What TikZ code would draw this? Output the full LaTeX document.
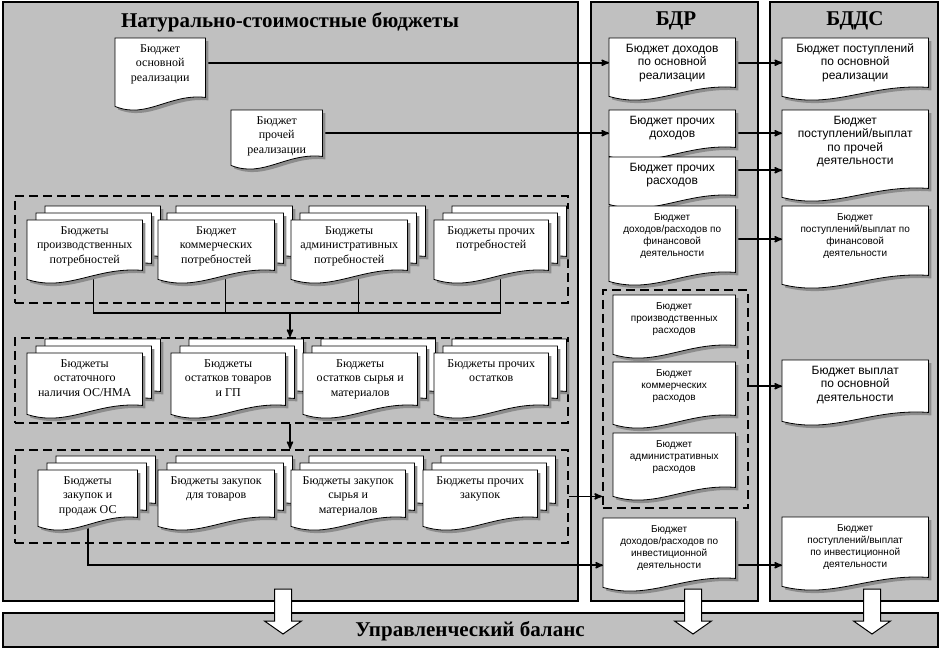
\documentclass[tikz,border=0pt]{standalone}
\usepackage{fontspec}
\setmainfont{Liberation Serif}
\setsansfont{Liberation Sans}
\usetikzlibrary{calc}
\usetikzlibrary{arrows}

\definecolor{panelgray}{RGB}{192,192,192}

\newcommand{\lmfont}{\rmfamily\fontsize{12}{14.5}\selectfont}
\newcommand{\rbfont}{\sffamily\fontsize{12}{13.5}\selectfont}
\newcommand{\rsfont}{\sffamily\fontsize{10}{12}\selectfont}
\newcommand{\ttlfont}{\rmfamily\bfseries\fontsize{21}{24}\selectfont}
% text of a budget sheet, top aligned: width, height, lines
\newcommand{\bud}[3]{\parbox[c][#2pt][t]{#1pt}{\centering\rule{0pt}{14pt}#3\par}}
% sheet outline with wavy bottom: node, dx, dy, style
\newcommand{\docpath}[4]{%
  \path[#4] let \p1=($(#1.north west)+(#2,#3)$), \p2=($(#1.south east)+(#2,#3)$), \n1={\x2-\x1} in
    (\x1,\y1) -- (\x2,\y1) -- (\x2,\y2)
    .. controls (\x2-0.4*\n1,\y2+4pt) and (\x1+0.35*\n1,\y2-22pt) .. (\x1,\y2-9pt) -- cycle;}

\pgfdeclarelayer{background}
\pgfdeclarelayer{edges}
\pgfdeclarelayer{docs}
\pgfsetlayers{background,edges,docs,main}

\tikzset{
  panel/.style={draw=black, fill=panelgray, line width=1.2pt},
  grp/.style={draw=black, line width=1.8pt, dash pattern=on 9pt off 5pt, anchor=north west, inner sep=0pt},
  lbud/.style={anchor=north west, inner sep=0pt, font=\lmfont},
  rbud/.style={anchor=north west, inner sep=0pt, font=\rbfont},
  sbud/.style={anchor=north west, inner sep=0pt, font=\rsfont},
  ttl/.style={font=\ttlfont, inner sep=0pt},
  docshadow/.style={fill=black!45},
  docpaper/.style={fill=white, draw=black, line width=0.8pt},
  link/.style={black, line width=1.6pt, ->, >=stealth'},
  busline/.style={black, line width=1.2pt},
  blk/.style={draw=black, fill=white, line width=1pt}
}

\begin{document}
\begin{tikzpicture}[x=1pt, y=-1pt]
\useasboundingbox (0,0) rectangle (941,649);

\begin{pgfonlayer}{background}
\fill[white] (0,0) rectangle (941,649);
\draw[panel] (3,2) rectangle (578,601);
\draw[panel] (591,2) rectangle (758,601);
\draw[panel] (770,2) rectangle (938,601);
\draw[panel] (3,613) rectangle (938,647);
\node[grp, minimum width=553, minimum height=107] (d1) at (14,195) {};
\node[grp, minimum width=553, minimum height=85] (d2) at (14,337) {};
\node[grp, minimum width=553, minimum height=93] (d3) at (14,449) {};
\node[grp, minimum width=145, minimum height=218] (d4) at (602,289) {};
\end{pgfonlayer}

% titles
\node[ttl] (tnat) at (290,22) {Натурально-стоимостные бюджеты};
\node[ttl] (tbdr) at (676,21) {БДР};
\node[ttl] (tbdds) at (855,21) {БДДС};

% natural budgets
\node[lbud] (lm1) at (115,38) {\bud{90}{59}{Бюджет\\основной\\реализации}};
\node[lbud] (lm2) at (231,110) {\bud{91}{46}{Бюджет\\прочей\\реализации}};

\node[lbud] (g1a) at (27,220) {\bud{115}{50}{Бюджеты\\производственных\\потребностей}};
\node[lbud] (g1b) at (158,220) {\bud{116}{50}{Бюджет\\коммерческих\\потребностей}};
\node[lbud] (g1c) at (291,220) {\bud{116}{50}{Бюджеты\\административных\\потребностей}};
\node[lbud] (g1d) at (434,220) {\bud{114}{50}{Бюджеты прочих\\потребностей}};

\node[lbud] (g2a) at (27,353) {\bud{115}{52}{Бюджеты\\остаточного\\наличия ОС/НМА}};
\node[lbud] (g2b) at (171,353) {\bud{114}{52}{Бюджеты\\остатков товаров\\и ГП}};
\node[lbud] (g2c) at (303,353) {\bud{114}{52}{Бюджеты\\остатков сырья и\\материалов}};
\node[lbud] (g2d) at (434,353) {\bud{114}{52}{Бюджеты прочих\\остатков}};

\node[lbud] (g3a) at (38,470) {\bud{99}{47}{Бюджеты\\закупок и\\продаж ОС}};
\node[lbud] (g3b) at (158,470) {\bud{116}{47}{Бюджеты закупок\\для товаров}};
\node[lbud] (g3c) at (291,470) {\bud{114}{47}{Бюджеты закупок\\сырья и\\материалов}};
\node[lbud] (g3d) at (423,470) {\bud{114}{47}{Бюджеты прочих\\закупок}};

% БДР
\node[rbud] (r1) at (609,38) {\bud{126}{49}{Бюджет доходов\\по основной\\реализации}};
\node[rbud] (r2) at (609,110) {\bud{126}{37}{Бюджет прочих\\доходов}};
\node[rbud] (r3) at (609,157) {\bud{126}{38}{Бюджет прочих\\расходов}};
\node[sbud] (r4) at (609,206) {\bud{126}{66}{Бюджет\\доходов/расходов по\\финансовой\\деятельности}};
\node[sbud] (r5) at (613,295) {\bud{122}{50}{Бюджет\\производственных\\расходов}};
\node[sbud] (r6) at (613,362) {\bud{122}{53}{Бюджет\\коммерческих\\расходов}};
\node[sbud] (r7) at (613,433) {\bud{122}{54}{Бюджет\\административных\\расходов}};
\node[sbud] (r8) at (603,518) {\bud{132}{60}{Бюджет\\доходов/расходов по\\инвестиционной\\деятельности}};

% БДДС
\node[rbud] (s1) at (782,38) {\bud{146}{49}{Бюджет поступлений\\по основной\\реализации}};
\node[rbud] (s2) at (782,110) {\bud{146}{78}{Бюджет\\поступлений/выплат\\по прочей\\деятельности}};
\node[sbud] (s3) at (782,206) {\bud{146}{69}{Бюджет\\поступлений/выплат по\\финансовой\\деятельности}};
\node[rbud] (s4) at (782,360) {\bud{146}{52}{Бюджет выплат\\по основной\\деятельности}};
\node[sbud] (s5) at (782,517) {\bud{146}{60}{Бюджет\\поступлений/выплат\\по инвестиционной\\деятельности}};

\coordinate (bus) at (290,313);

\begin{pgfonlayer}{docs}
\foreach \nm in {g1a,g1b,g1c,g1d,g2a,g2b,g2c,g2d,g3a,g3b,g3c,g3d} {
  \docpath{\nm}{21}{-11}{docshadow}
  \docpath{\nm}{18}{-14}{docpaper}
  \docpath{\nm}{12}{-4}{docshadow}
  \docpath{\nm}{9}{-7}{docpaper}
}
\foreach \nm in {lm1,lm2,g1a,g1b,g1c,g1d,g2a,g2b,g2c,g2d,g3a,g3b,g3c,g3d,r1,r2,r3,r4,r5,r6,r7,r8,s1,s2,s3,s4,s5} {
  \docpath{\nm}{3}{3}{docshadow}
  \docpath{\nm}{0}{0}{docpaper}
}
\end{pgfonlayer}

\begin{pgfonlayer}{edges}
\draw[link] (lm1 |- r1) -- (r1.west);
\draw[link] (lm2) -- (lm2 -| r2.west);
\draw[link] (r1) -- (s1.west);
\draw[link] (r2.east |- lm2) -- (lm2 -| s2.west);
\draw[link] ([yshift=6pt]r3.east) -- ([yshift=6pt]r3.east -| s2.west);
\draw[link] (r4) -- (r4 -| s3.west);
\draw[link] (d4.east |- s4) -- (s4.west);
\draw[link] (d3.east) -- (d3.east -| d4.west);
\draw[link] (g3a) |- ([yshift=-17pt]r8.west);
\draw[link] ([yshift=-17pt]r8.east) -- ([yshift=-17pt]r8.east -| s5.west);
\draw[busline] ([xshift=9pt]g1a.center) |- ([xshift=9pt]g1d.center |- bus) -- ([xshift=9pt]g1d.center);
\foreach \nm in {g1b,g1c}
  \draw[busline] ([xshift=9pt]\nm.center) -- ([xshift=9pt]\nm.center |- bus);
\draw[link] (bus) -- (bus |- d2.north);
\draw[link] (d2.south -| bus) -- (d3.north -| bus);
\end{pgfonlayer}

% arrows down to the balance
\foreach \c in {283,693,872}
  \draw[blk] (\c-8.5,589) -- (\c+8.5,589) -- (\c+8.5,621) -- (\c+18.5,621) -- (\c,634) -- (\c-18.5,621) -- (\c-8.5,621) -- cycle;
\node[ttl] (tbal) at (470,631) {Управленческий баланс};
\end{tikzpicture}
\end{document}
